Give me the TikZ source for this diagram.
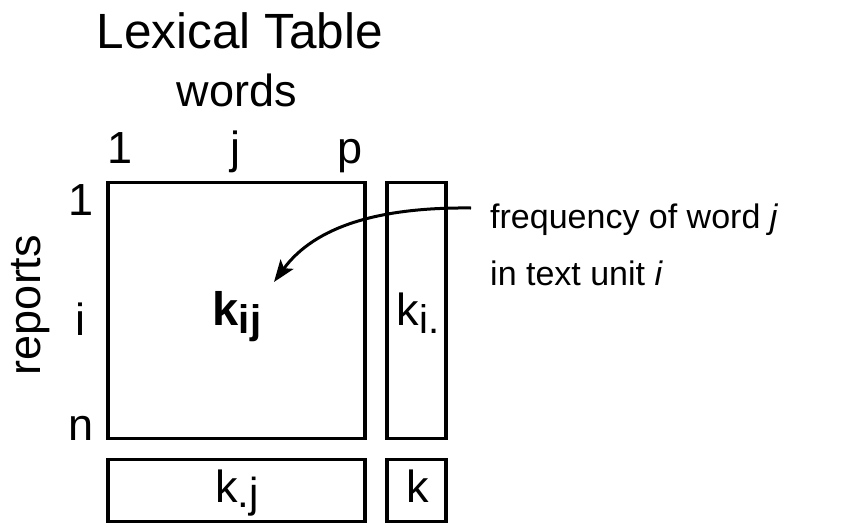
\documentclass[tikz,border=0pt]{standalone}
\usepackage{fontspec}
\setmainfont{Liberation Sans}
\usetikzlibrary{arrows.meta}
\newcommand{\fs}[1]{\fontsize{#1}{#1}\selectfont}
\begin{document}
\begin{tikzpicture}[x=1pt,y=-1pt,
  cell/.style={draw,line width=3.1pt,inner sep=0pt,outer sep=0pt},
  lbl/.style={anchor=base,inner sep=0pt,font=\fs{45}},
  title/.style={anchor=base,inner sep=0pt,font=\fs{49.5}},
  note/.style={anchor=base west,inner sep=0pt,font=\fs{34}},
  pointer/.style={line width=3pt,-{Stealth[length=22pt,width=16pt,inset=5pt]}}]
\useasboundingbox (0,0) rectangle (843,525);
% title
\node[title] (ttl) at (240,48) {Lexical Table};
\node[lbl] (words) at (237,106) {words};
% column indices
\node[lbl] (c1) at (120,163) {1};
\node[lbl] (cj) at (235,163) {j};
\node[lbl] (cp) at (350,163) {p};
% row indices
\node[lbl] (r1) at (81,215) {1};
\node[lbl] (ri) at (80,335) {i};
\node[lbl] (rn) at (81,440) {n};
\node[lbl,rotate=90,anchor=center] (rep) at (31,305) {reports};
% boxes
\node[cell,minimum width=257pt,minimum height=256pt] (M) at (236.5,310.5) {};
\node[cell,minimum width=59pt,minimum height=256pt] (R) at (416.5,310.5) {};
\node[cell,minimum width=257pt,minimum height=62pt] (B) at (236.5,490.5) {};
\node[cell,minimum width=59pt,minimum height=62pt] (T) at (416.5,490.5) {};
% contents
\node[lbl] (kij) at (237,325) {\fs{47}\bfseries k\raisebox{-8pt}{\fs{40}ij}};
\node[lbl] (ki) at (418,325) {k\raisebox{-8pt}{\fs{40}i.}};
\node[lbl] (kj) at (237,502) {k\raisebox{-5pt}{\fs{42}.j}};
\node[lbl] (k) at (418,502) {k};
% annotation
\node[note] (f1) at (490,228) {frequency of word \textit{j}};
\node[note] (f2) at (490,285) {in text unit \textit{i}};
\coordinate (as) at (471,208);
\coordinate (tip) at (274,282);
\draw[pointer] (as) .. controls (380,207) and (315,226) .. (tip);
\end{tikzpicture}
\end{document}
